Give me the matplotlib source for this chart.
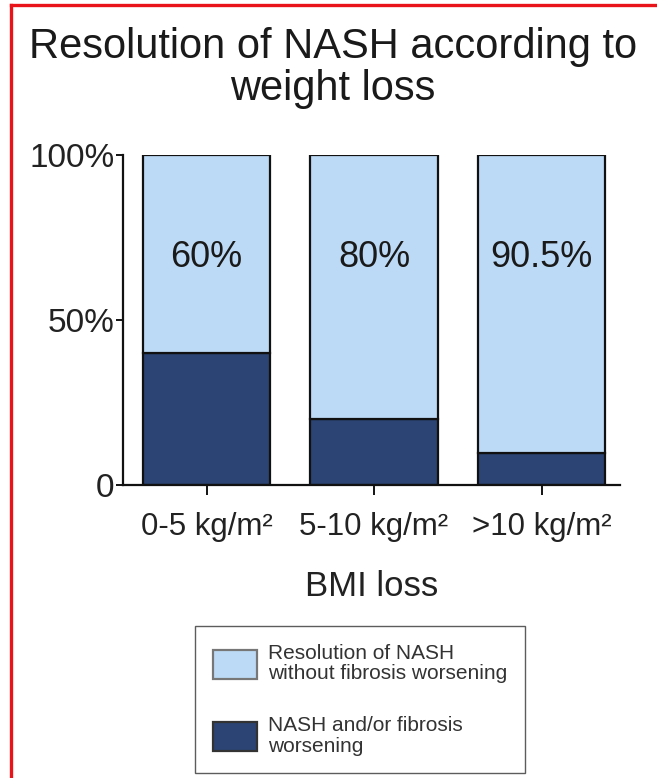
import matplotlib
matplotlib.use("Agg")
import matplotlib.pyplot as plt
from matplotlib.lines import Line2D
import numpy as np

plt.rcParams['font.family'] = ['Liberation Sans', 'DejaVu Sans']

# BMI loss groups and share of patients (%)
groups = ['0-5 kg/m²', '5-10 kg/m²', '>10 kg/m²']
worsening = [40, 20, 9.5]
resolution = [60, 80, 90.5]

light = '#bcdaf6'
dark = '#2b4474'

fig = plt.figure(figsize=(6.57, 7.78), dpi=100)
ax = fig.add_axes([0.187, 0.377, 0.757, 0.424])

x = np.arange(len(groups))
w = 0.76
ax.bar(x, worsening, w, color=dark, edgecolor='#111111', linewidth=1.6,
       label='NASH and/or fibrosis\nworsening')
ax.bar(x, resolution, w, bottom=worsening, color=light, edgecolor='#111111',
       linewidth=1.6, label='Resolution of NASH\nwithout fibrosis worsening')

for xi, v in zip(x, resolution):
    ax.text(xi, 69, f'{v:g}%', ha='center', va='center', fontsize=26,
            color='#1a1a1a')

ax.set_xlim(-0.5, 2.47)
ax.set_ylim(0, 100)
ax.set_yticks([0, 50, 100])
ax.set_yticklabels(['0', '50%', '100%'], fontsize=24, color='#222222')
ax.set_xticks(x)
ax.set_xticklabels(groups, fontsize=22.5, color='#222222')
ax.tick_params(axis='y', length=5, width=1.3, pad=1)
ax.tick_params(axis='x', length=7, width=1.3, pad=13)
ax.set_xlabel('BMI loss', fontsize=25, color='#222222', labelpad=20)

for s in ['top', 'right']:
    ax.spines[s].set_visible(False)
for s in ['left', 'bottom']:
    ax.spines[s].set_linewidth(1.6)
    ax.spines[s].set_color('#111111')

fig.text(0.507, 0.9125, 'Resolution of NASH according to\nweight loss',
         ha='center', va='center', fontsize=30, linespacing=1.05,
         color='#1a1a1a')

handles, labels = ax.get_legend_handles_labels()
leg = fig.legend(handles[::-1], labels[::-1], loc='upper left',
                 bbox_to_anchor=(0.297, 0.1954), borderaxespad=0,
                 fontsize=15, frameon=True, fancybox=False,
                 edgecolor='#333333', handlelength=2.1, handleheight=1.75,
                 labelspacing=1.55, borderpad=0.85, handletextpad=0.55)
leg.get_frame().set_linewidth(1.0)
leg.legend_handles[0].set_edgecolor('#777777')
leg.legend_handles[1].set_edgecolor('#333333')
for t in leg.get_texts():
    t.set_color('#333333')
    t.set_linespacing(1.12)

# thin red frame along the top and left edges
fig.add_artist(Line2D([11 / 657, 11 / 657], [0, 1 - 5 / 778],
                      transform=fig.transFigure, color='#e8141a', lw=2.4))
fig.add_artist(Line2D([11 / 657, 1], [1 - 5 / 778, 1 - 5 / 778],
                      transform=fig.transFigure, color='#e8141a', lw=2.4))

fig.savefig('out.png', dpi=100)
